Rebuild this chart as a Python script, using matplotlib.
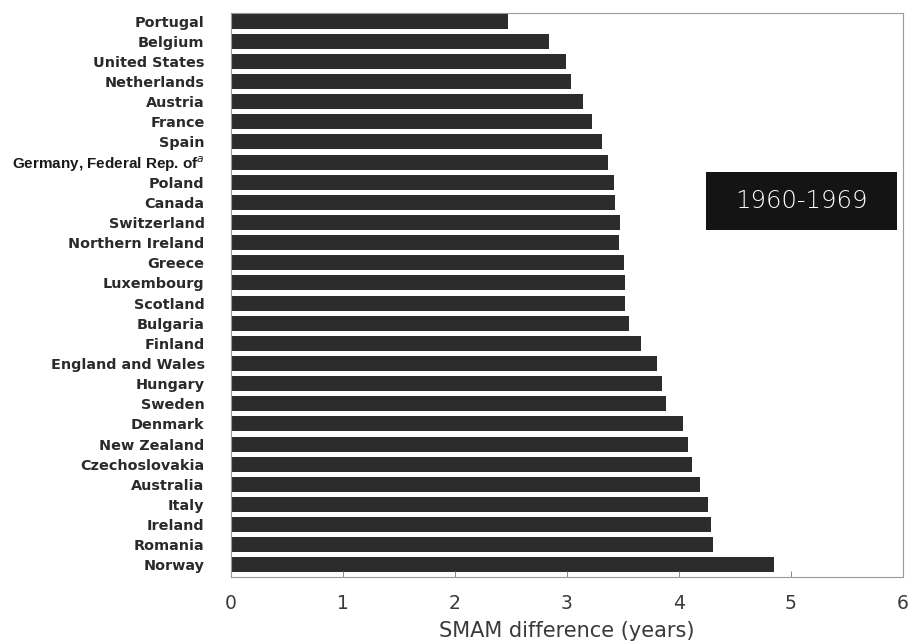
import matplotlib
matplotlib.use("Agg")
import matplotlib.pyplot as plt
from matplotlib.patches import Rectangle

countries = [
    "Portugal", "Belgium", "United States", "Netherlands", "Austria", "France",
    "Spain", r"Germany, Federal Rep. of$^{a}$", "Poland", "Canada",
    "Switzerland", "Northern Ireland", "Greece", "Luxembourg", "Scotland",
    "Bulgaria", "Finland", "England and Wales", "Hungary", "Sweden", "Denmark",
    "New Zealand", "Czechoslovakia", "Australia", "Italy", "Ireland", "Romania",
    "Norway",
]
smam_diff = [
    2.47, 2.84, 2.99, 3.04, 3.14, 3.22, 3.31, 3.37, 3.42, 3.43,
    3.47, 3.46, 3.51, 3.52, 3.52, 3.55, 3.66, 3.80, 3.85, 3.88,
    4.04, 4.08, 4.12, 4.19, 4.26, 4.29, 4.30, 4.85,
]
x_ticks = [0, 1, 2, 3, 4, 5, 6]
period_label = "1960-1969"

fig = plt.figure(figsize=(9.13, 6.44), dpi=100)
W, H = 913, 644
left, right, top, bottom = 231, 903, 13, 577
ax = fig.add_axes([left / W, 1 - bottom / H, (right - left) / W, (bottom - top) / H])

ypos = list(range(len(countries)))
ax.barh(ypos, smam_diff, height=0.75, color="#2c2c2c", edgecolor="none")

ax.set_xlim(0, 6)
ax.set_ylim(27.6, -0.4)

ax.set_yticks(ypos)
ax.set_yticklabels(countries)
for lbl, name in zip(ax.get_yticklabels(), countries):
    if name.startswith("Germany"):
        lbl.set_family(["Liberation Sans", "DejaVu Sans"])
        lbl.set_fontsize(11)
        lbl.set_fontweight("bold")
        lbl.set_color("#1a1a1a")
    else:
        lbl.set_family("DejaVu Sans")
        lbl.set_fontsize(10.4)
        lbl.set_fontweight("bold")
        lbl.set_color("#2a2a2a")
ax.tick_params(axis="y", length=0, pad=19)

ax.set_xticks(x_ticks)
ax.set_xticklabels([str(t) for t in x_ticks], fontsize=13.5,
                   family="DejaVu Sans", color="#3a3a3a")
ax.tick_params(axis="x", direction="in", length=4, width=0.7,
               color="#888888", pad=12)

ax.set_xlabel("SMAM difference (years)", fontsize=15, family="DejaVu Sans",
              color="#3a3a3a", labelpad=6)

for sp in ax.spines.values():
    sp.set_color("#999999")
    sp.set_linewidth(0.8)

# period caption in a black box
ax.add_patch(Rectangle((0.707, 0.615), 0.284, 0.103, transform=ax.transAxes,
                       facecolor="#141414", edgecolor="none", zorder=3))
ax.text(0.849, 0.6665, period_label, transform=ax.transAxes, ha="center",
        va="center", color="white", fontsize=17.5, family="DejaVu Sans",
        fontweight="light", zorder=4)

fig.savefig("out.png", dpi=100, facecolor="white")
